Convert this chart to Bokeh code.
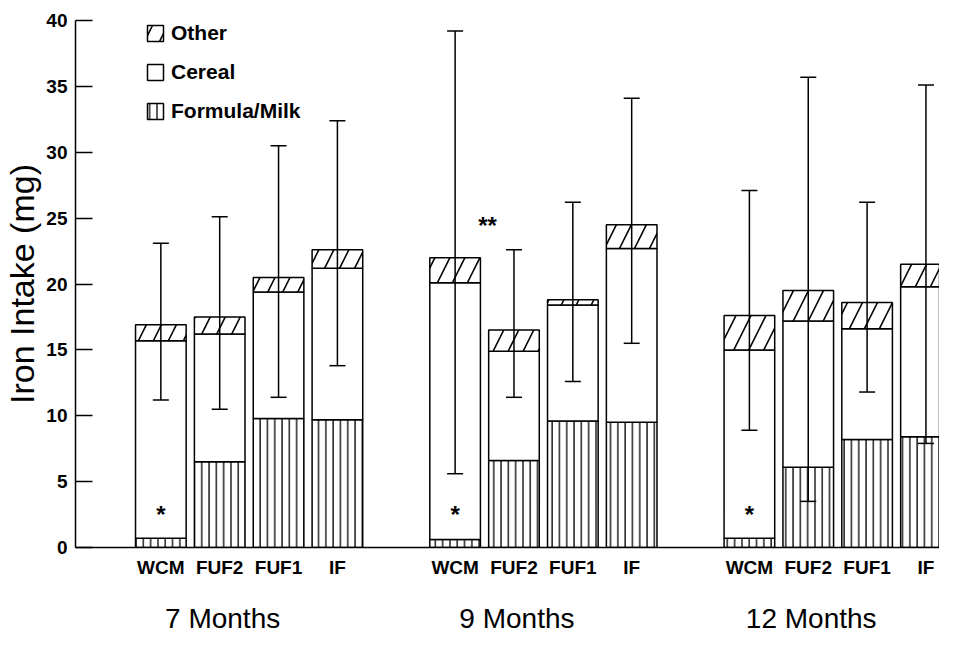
from bokeh.plotting import figure
from bokeh.models import (ColumnDataSource, Range1d, LinearAxis, FixedTicker, Whisker,
                          TeeHead, Legend, LegendItem)
from bokeh.embed import file_html
from bokeh.resources import INLINE
from bokeh.core.properties import value

# ---- data ----
ages = ["7 Months", "9 Months", "12 Months"]
groups = ["WCM", "FUF2", "FUF1", "IF"]
# iron from each source (mg/day), order: age x group
formula = [0.7, 6.5, 9.8, 9.7,
           0.6, 6.6, 9.6, 9.5,
           0.7, 6.1, 8.2, 8.4]
cereal = [15.0, 9.7, 9.6, 11.5,
          19.5, 8.3, 8.8, 13.2,
          14.3, 11.1, 8.4, 11.4]
other = [1.2, 1.3, 1.1, 1.4,
         1.9, 1.6, 0.4, 1.8,
         2.6, 2.3, 2.0, 1.7]
err_low = [11.2, 10.5, 11.4, 13.8,
           5.6, 11.4, 12.6, 15.5,
           8.9, 3.5, 11.8, 7.9]
err_high = [23.1, 25.1, 30.5, 32.4,
            39.2, 22.6, 26.2, 34.1,
            27.1, 35.7, 26.2, 35.1]
single_star = [("7 Months", "WCM"), ("9 Months", "WCM"), ("12 Months", "WCM")]
double_star = [("9 Months", "WCM")]
y_ticks = [0, 5, 10, 15, 20, 25, 30, 35, 40]

FONT = "Liberation Sans"

# ---- positions from category indices ----
slot = len(groups) + 1
xs, labels = [], {}
for ai, a in enumerate(ages):
    for gi, g in enumerate(groups):
        x = ai * slot + gi
        xs.append(x)
        labels[x] = g
f_top = formula
c_top = [f + c for f, c in zip(formula, cereal)]
o_top = [c + o for c, o in zip(c_top, other)]

src = ColumnDataSource(dict(x=xs, f=f_top, c=c_top, o=o_top, lo=err_low, hi=err_high))

p = figure(width=939, height=636, output_backend="svg", toolbar_location=None,
           x_range=Range1d(-1.45, 13.23), y_range=Range1d(0, 40),
           min_border_left=73, min_border_right=0, min_border_top=20, min_border_bottom=89)
p.outline_line_color = None
p.xgrid.visible = False
p.ygrid.visible = False
p.background_fill_color = "white"
p.border_fill_color = "white"

W = 0.86
r_f = p.vbar(x="x", bottom=0, top="f", width=W, source=src, fill_color="white",
             line_color="black", line_width=1.5, hatch_pattern="vertical_line",
             hatch_scale=7.3, hatch_weight=1.3, hatch_color="black")
r_c = p.vbar(x="x", bottom="f", top="c", width=W, source=src, fill_color="white",
             line_color="black", line_width=1.5)
r_o = p.vbar(x="x", bottom="c", top="o", width=W, source=src, fill_color="white",
             line_color="black", line_width=1.5, hatch_pattern="right_diagonal_line",
             hatch_scale=30, hatch_weight=1.6, hatch_color="black")

wh = Whisker(source=src, base="x", lower="lo", upper="hi", line_width=1.5, line_color="black",
             upper_head=TeeHead(size=16, line_width=1.5, line_color="black"),
             lower_head=TeeHead(size=16, line_width=1.5, line_color="black"),
             level="overlay")
p.add_layout(wh)

# significance marks
sx = [ages.index(a) * slot + groups.index(g) for a, g in single_star]
p.text(x=sx, y=[3.0] * len(sx), text=["*"] * len(sx), text_font=value(FONT),
       text_font_style="bold", text_font_size="24px", text_align="center",
       text_baseline="middle", y_offset=7, text_color="black")
dx = [ages.index(a) * slot + groups.index(g) + 0.55 for a, g in double_star]
p.text(x=dx, y=[25.0] * len(dx), text=["**"] * len(dx), text_font=value(FONT),
       text_font_style="bold", text_font_size="24px", text_align="center",
       text_baseline="middle", y_offset=7, text_color="black")

# y axis
ya = p.yaxis[0]
ya.ticker = FixedTicker(ticks=y_ticks)
ya.axis_label = "Iron Intake (mg)"
ya.axis_label_text_font = FONT
ya.axis_label_text_font_style = "normal"
ya.axis_label_text_font_size = "34px"
ya.axis_label_text_color = "black"
ya.axis_label_standoff = 2
ya.major_label_text_font = FONT
ya.major_label_text_font_style = "bold"
ya.major_label_text_font_size = "19px"
ya.major_label_text_color = "black"
ya.major_label_standoff = 8
ya.major_tick_in = 17
ya.major_tick_out = 0
ya.minor_tick_line_color = None
ya.axis_line_width = 1.5
ya.major_tick_line_width = 1.5
ya.axis_line_color = "black"
ya.major_tick_line_color = "black"

# x axis: sub-categories
xa = p.xaxis[0]
xa.ticker = FixedTicker(ticks=xs)
xa.major_label_overrides = labels
xa.major_label_text_font = FONT
xa.major_label_text_font_style = "bold"
xa.major_label_text_font_size = "19px"
xa.major_label_text_color = "black"
xa.major_label_standoff = 9
xa.major_tick_in = 0
xa.major_tick_out = 0
xa.minor_tick_line_color = None
xa.axis_line_width = 1.5
xa.axis_line_color = "black"

# x axis: age groups
gc = [ai * slot + (len(groups) - 1) / 2 - 0.45 for ai in range(len(ages))]
ga = LinearAxis(ticker=FixedTicker(ticks=gc),
                major_label_overrides={c: a for c, a in zip(gc, ages)})
ga.axis_line_color = None
ga.major_tick_line_color = None
ga.minor_tick_line_color = None
ga.major_label_text_font = FONT
ga.major_label_text_font_size = "28px"
ga.major_label_text_color = "black"
ga.major_label_standoff = 16
p.add_layout(ga, "below")

legend = Legend(items=[LegendItem(label="Other", renderers=[r_o]),
                       LegendItem(label="Cereal", renderers=[r_c]),
                       LegendItem(label="Formula/Milk", renderers=[r_f])],
                location=(70, 424), orientation="vertical",
                glyph_width=20, glyph_height=20, label_height=20, spacing=15,
                label_standoff=6, padding=0, margin=0,
                border_line_color=None, background_fill_alpha=0,
                label_text_font=FONT, label_text_font_style="bold",
                label_text_font_size="21px", label_text_color="black")
p.add_layout(legend)

open("out.html", "w").write(file_html(p, INLINE))
